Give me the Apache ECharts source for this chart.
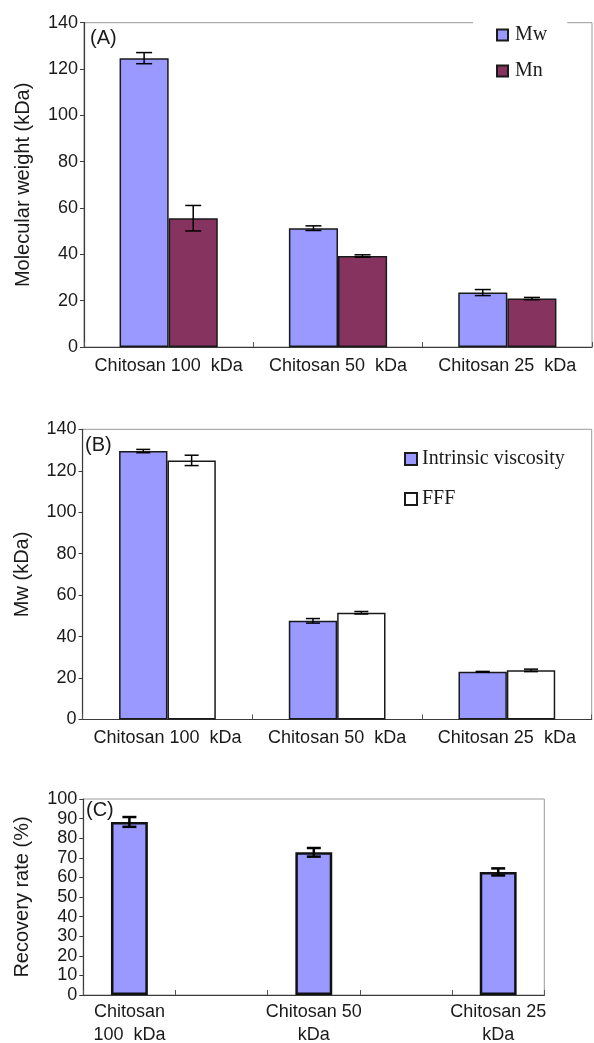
<!DOCTYPE html>
<html>
<head>
<meta charset="utf-8">
<script src="https://cdn.jsdelivr.net/npm/echarts@6/dist/echarts.min.js"></script>
<style>
  html, body { margin: 0; padding: 0; background: #fff; }
  #chart { width: 594px; height: 1043px; }
</style>
</head>
<body>
<div id="chart"></div>
<script>
// ---- data ----
const categoriesAB = ['Chitosan 100  kDa', 'Chitosan 50  kDa', 'Chitosan 25  kDa'];

// (A) molecular weight by FFF
const mwValues = [124.7, 51.3, 23.5];
const mwErrors = [2.4, 1.0, 1.3];
const mnValues = [55.6, 39.3, 20.9];
const mnErrors = [5.5, 0.5, 0.5];

// (B) Mw by intrinsic viscosity vs FFF
const ivValues = [129.5, 47.6, 23.0];
const ivErrors = [0.8, 1.1, 0.2];
const fffValues = [125.0, 51.5, 23.7];
const fffErrors = [2.5, 0.6, 0.6];

// (C) recovery rate, bars on every other slot
const categoriesC = ['Chitosan\n100  kDa', '', 'Chitosan 50\nkDa', '', 'Chitosan 25\nkDa'];
const recoveryValues = [88.3, null, 72.8, null, 62.8];
const recoveryErrors = [2.5, null, 2.2, null, 1.8];

const yTicksAB = { min: 0, max: 140, interval: 20 };
const yTicksC = { min: 0, max: 100, interval: 10 };

// ---- styling ----
const SANS = "'Liberation Sans', Arial, sans-serif";
const SERIF = "'Liberation Serif', 'Times New Roman', serif";
const BLUE = '#9999ff';
const PLUM = '#86345f';
const FRAME = '#9a9a9a';
const AXIS = '#3a3a3a';
const TEXT = '#1a1a1a';

function errData(values, errors) {
  const out = [];
  values.forEach((v, i) => { if (v != null) out.push([i, v, errors[i]]); });
  return out;
}

// error bar drawn at a fraction of the band width from the category centre
function errorSeries(gridIdx, data, offsetFrac, capHalf, width) {
  return {
    type: 'custom',
    xAxisIndex: gridIdx,
    yAxisIndex: gridIdx,
    z: 10,
    silent: true,
    encode: { x: 0, y: 1 },
    data: data,
    renderItem: function (params, api) {
      const idx = api.value(0), val = api.value(1), err = api.value(2);
      const band = api.size([1, 0])[0];
      const x = api.coord([idx, val])[0] + offsetFrac * band;
      const yt = api.coord([idx, val + err])[1];
      const yb = api.coord([idx, val - err])[1];
      const st = { stroke: '#000', lineWidth: width };
      return {
        type: 'group',
        children: [
          { type: 'line', shape: { x1: x, y1: yt, x2: x, y2: yb }, style: st },
          { type: 'line', shape: { x1: x - capHalf, y1: yt, x2: x + capHalf, y2: yt }, style: st },
          { type: 'line', shape: { x1: x - capHalf, y1: yb, x2: x + capHalf, y2: yb }, style: st }
        ]
      };
    }
  };
}

function catAxis(gridIdx, cats, labelMargin, lineHeight) {
  return {
    type: 'category',
    gridIndex: gridIdx,
    data: cats,
    boundaryGap: true,
    axisLine: { lineStyle: { color: AXIS, width: 1.2 } },
    axisTick: { show: true, inside: true, length: 5, interval: 0, lineStyle: { color: '#555' } },
    axisLabel: {
      interval: 0, margin: labelMargin, fontSize: 18, fontFamily: SANS, color: TEXT,
      lineHeight: lineHeight || 22
    },
    splitLine: { show: false }
  };
}

function valAxis(gridIdx, ticks, name, nameGap) {
  return {
    type: 'value',
    gridIndex: gridIdx,
    min: ticks.min, max: ticks.max, interval: ticks.interval,
    name: name,
    nameLocation: 'middle',
    nameRotate: 90,
    nameGap: nameGap,
    nameTextStyle: { fontSize: 20, fontFamily: SANS, color: TEXT },
    axisLine: { show: true, lineStyle: { color: AXIS, width: 1.2 } },
    axisTick: { show: true, inside: false, length: 4, lineStyle: { color: AXIS } },
    axisLabel: { margin: 6, fontSize: 18, fontFamily: SANS, color: TEXT },
    splitLine: { show: false }
  };
}

const frame = { show: true, borderColor: FRAME, borderWidth: 1, backgroundColor: 'transparent',
  containLabel: false, outerBoundsMode: 'none' };

const barW = '29%';
const titleStyle = { fontSize: 20, fontWeight: 'normal', fontFamily: SANS, color: TEXT };
const option = {
  animation: false,
  backgroundColor: '#fff',
  title: [
    { text: '(A)', left: 90, top: 28, padding: 0, textStyle: titleStyle },
    { text: '(B)', left: 85, top: 435, padding: 0, textStyle: titleStyle },
    { text: '(C)', left: 86, top: 800, padding: 0, textStyle: titleStyle }
  ],
  legend: [
    {
      data: ['Mw', 'Mn'],
      orient: 'vertical',
      icon: 'rect',
      left: 473, top: 12,
      padding: [13, 20, 8, 23],
      backgroundColor: '#fff',
      itemWidth: 11, itemHeight: 11, itemGap: 16,
      textStyle: { fontSize: 20, fontFamily: SERIF, color: TEXT, padding: [0, 0, 0, 2] },
      selectedMode: false
    },
    {
      data: ['Intrinsic viscosity', 'FFF'],
      orient: 'vertical',
      icon: 'rect',
      left: 404, top: 449,
      padding: 0,
      itemWidth: 12, itemHeight: 12, itemGap: 20,
      textStyle: { fontSize: 20, fontFamily: SERIF, color: TEXT },
      selectedMode: false
    }
  ],
  grid: [
    Object.assign({ left: 84, right: 2, top: 22.7, bottom: 696 }, frame),
    Object.assign({ left: 82.6, right: 2.3, top: 429.3, bottom: 323.5 }, frame),
    Object.assign({ left: 83.3, right: 49.7, top: 799, bottom: 48 }, frame)
  ],
  xAxis: [
    catAxis(0, categoriesAB, 8),
    catAxis(1, categoriesAB, 8),
    catAxis(2, categoriesC, 6, 23)
  ],
  yAxis: [
    valAxis(0, yTicksAB, 'Molecular weight (kDa)', 51),
    valAxis(1, yTicksAB, 'Mw (kDa)', 50),
    valAxis(2, yTicksC, 'Recovery rate (%)', 51)
  ],
  series: [
    { name: 'Mw', type: 'bar', xAxisIndex: 0, yAxisIndex: 0, data: mwValues, barWidth: barW, barGap: '0%',
      itemStyle: { color: BLUE, borderColor: '#1a1a1a', borderWidth: 1.5 } },
    { name: 'Mn', type: 'bar', xAxisIndex: 0, yAxisIndex: 0, data: mnValues, barWidth: barW, barGap: '0%',
      itemStyle: { color: PLUM, borderColor: '#1a1a1a', borderWidth: 1.5 } },
    errorSeries(0, errData(mwValues, mwErrors), -0.145, 8, 1.5),
    errorSeries(0, errData(mnValues, mnErrors), 0.145, 8, 1.5),

    { name: 'Intrinsic viscosity', type: 'bar', xAxisIndex: 1, yAxisIndex: 1, data: ivValues, barWidth: '28.5%', barGap: '0%',
      itemStyle: { color: BLUE, borderColor: '#1a1a1a', borderWidth: 1.5 } },
    { name: 'FFF', type: 'bar', xAxisIndex: 1, yAxisIndex: 1, data: fffValues, barWidth: '28.5%', barGap: '0%',
      itemStyle: { color: '#ffffff', borderColor: '#1a1a1a', borderWidth: 1.5 } },
    errorSeries(1, errData(ivValues, ivErrors), -0.1425, 7, 1.5),
    errorSeries(1, errData(fffValues, fffErrors), 0.1425, 7, 1.5),

    { name: 'Recovery rate', type: 'bar', xAxisIndex: 2, yAxisIndex: 2, data: recoveryValues, barWidth: '40%',
      itemStyle: { color: BLUE, borderColor: '#111', borderWidth: 2.5 } },
    errorSeries(2, errData(recoveryValues, recoveryErrors), 0, 7, 2.5)
  ]
};

const chart = echarts.init(document.getElementById('chart'), null, { renderer: 'canvas' });
chart.setOption(option);
</script>
</body>
</html>
